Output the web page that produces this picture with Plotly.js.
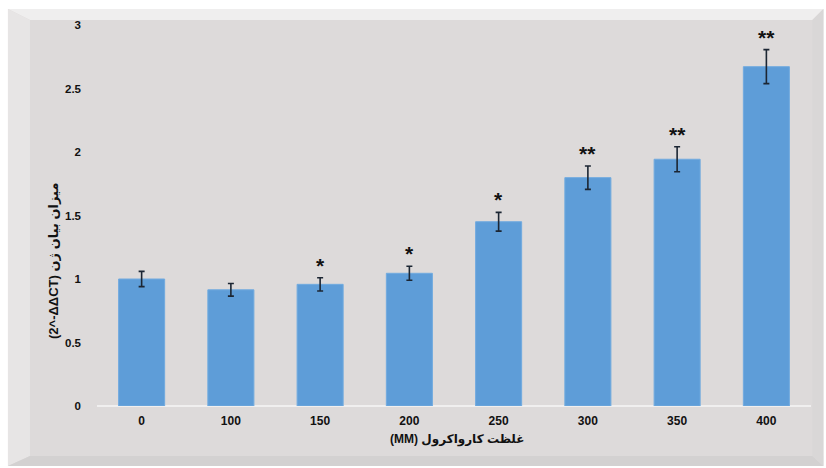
<!DOCTYPE html>
<html>
<head>
<meta charset="utf-8">
<script src="https://cdn.plot.ly/plotly-3.0.1.min.js"></script>
<style>html,body{margin:0;padding:0;background:#fff}#chart{width:826px;height:468px}</style>
</head>
<body>
<div id="chart"></div>
<script>
// Data
const categories = ['0', '100', '150', '200', '250', '300', '350', '400'];
const values = [1.0, 0.915, 0.958, 1.045, 1.451, 1.798, 1.943, 2.672];
const errors = [0.06, 0.05, 0.052, 0.055, 0.074, 0.092, 0.098, 0.134];
const stars = ['', '', '*', '*', '*', '**', '**', '**'];
const yTickVals = [0, 0.5, 1, 1.5, 2, 2.5, 3];
const yTickText = ['0', '0.5', '1', '1.5', '2', '2.5', '3'];
const yTitle = '(2^-ΔΔCT) میزان بیان ژن';
const xTitle = '(MM) غلظت کارواکرول';

// Layout geometry (pixels)
const W = 826, H = 468;
const L = 97, R = 810.6, T = 25, B = 406;
const px = x => (x - L) / (R - L);
const py = y => (B - y) / (B - T);
const path = pts => 'M' + pts.map(p => px(p[0]).toFixed(5) + ',' + py(p[1]).toFixed(5)).join('L') + 'Z';

const fx0 = 8, fx1 = 823, fy0 = 9, fy1 = 466, bx = 22, bt = 11, bb = 10, br = 11;
const shapes = [
  {type: 'path', xref: 'paper', yref: 'paper', layer: 'below', line: {width: 0}, fillcolor: '#dddada',
   path: path([[fx0, fy0], [fx1, fy0], [fx1, fy1], [fx0, fy1]])},
  {type: 'path', xref: 'paper', yref: 'paper', layer: 'below', line: {width: 0}, fillcolor: '#efeeee',
   path: path([[fx0, fy0], [fx1, fy0], [fx1 - br, fy0 + bt], [fx0 + bx, fy0 + bt]])},
  {type: 'path', xref: 'paper', yref: 'paper', layer: 'below', line: {width: 0}, fillcolor: '#e7e5e5',
   path: path([[fx0, fy0], [fx0 + bx, fy0 + bt], [fx0 + bx, fy1 - bb], [fx0, fy1]])},
  {type: 'path', xref: 'paper', yref: 'paper', layer: 'below', line: {width: 0}, fillcolor: '#d3d1d1',
   path: path([[fx0, fy1], [fx0 + bx, fy1 - bb], [fx1 - br, fy1 - bb], [fx1, fy1]])},
  {type: 'path', xref: 'paper', yref: 'paper', layer: 'below', line: {width: 0}, fillcolor: '#d9d7d7',
   path: path([[fx1, fy0], [fx1 - br, fy0 + bt], [fx1 - br, fy1 - bb], [fx1, fy1]])}
];

const font = 'Liberation Sans, Arial, DejaVu Sans, sans-serif';

const annotations = [];
categories.forEach((c, i) => {
  if (!stars[i]) return;
  annotations.push({
    x: i, y: values[i] + errors[i], xref: 'x', yref: 'y',
    text: '<b>' + stars[i] + '</b>', showarrow: false,
    xanchor: 'center', yanchor: 'bottom', yshift: -1,
    font: {family: font, size: 21, color: '#111'}
  });
});

annotations.push({
  x: px(53), y: py(261), xref: 'paper', yref: 'paper', textangle: -90,
  xanchor: 'center', yanchor: 'middle',
  text: '<b>' + yTitle + '</b>', showarrow: false,
  font: {family: 'Liberation Sans, DejaVu Sans, sans-serif', size: 13, color: '#111'}
});
annotations.push({
  x: px(457), y: py(439), xref: 'paper', yref: 'paper',
  xanchor: 'center', yanchor: 'middle',
  text: '<b>' + xTitle + '</b>', showarrow: false,
  font: {family: 'Liberation Sans, DejaVu Sans, sans-serif', size: 12, color: '#111'}
});

const trace = {
  type: 'bar', x: categories, y: values,
  marker: {color: '#5e9dd8', line: {color: '#72abdf', width: 1}},
  error_y: {type: 'data', array: errors, visible: true, color: '#1c2633', thickness: 1.6, width: 3},
  hoverinfo: 'none'
};

const layout = {
  width: W, height: H,
  margin: {l: L, r: W - R, t: T, b: H - B, pad: 0},
  paper_bgcolor: '#ffffff', plot_bgcolor: 'rgba(0,0,0,0)',
  showlegend: false, bargap: 0.484,
  font: {family: font, color: '#111'},
  xaxis: {
    type: 'category', range: [-0.5, categories.length - 0.5], autorange: false,
    showgrid: false, zeroline: false, showline: false, ticks: '',
    tickfont: {family: font, size: 12, color: '#111', weight: 'bold'}, ticklabelstandoff: 6,
    fixedrange: true
  },
  yaxis: {
    range: [0, 3], autorange: false, tickvals: yTickVals, ticktext: yTickText, showgrid: false,
    zeroline: true, zerolinecolor: '#f0efef', zerolinewidth: 1.5, showline: false, ticks: '',
    tickfont: {family: font, size: 11.5, color: '#111', weight: 'bold'}, ticklabelstandoff: 15,
    fixedrange: true
  },
  shapes: shapes,
  annotations: annotations
};

Plotly.newPlot('chart', [trace], layout, {displayModeBar: false, staticPlot: true});
</script>
</body>
</html>
